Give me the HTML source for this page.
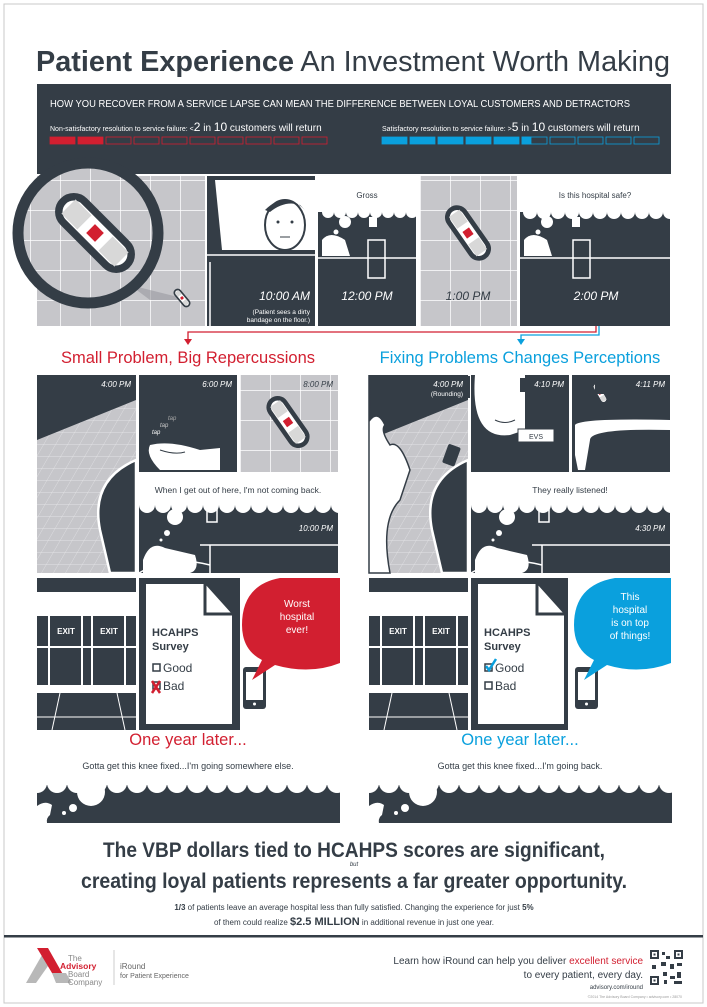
<!DOCTYPE html>
<html><head><meta charset="utf-8"><style>
html,body{margin:0;padding:0;background:#fff}
svg{display:block}
text{font-family:"Liberation Sans",sans-serif}
</style></head><body>
<svg width="707" height="1007" viewBox="0 0 707 1007" xmlns="http://www.w3.org/2000/svg">
<defs>
<pattern id="grid" width="30" height="30" patternUnits="userSpaceOnUse"><rect width="30" height="30" fill="#c6c6ca"/><path d="M0 0H30M0 0V30" stroke="#fff" stroke-width="1.5"/></pattern>
<pattern id="floor" width="12" height="12" patternUnits="userSpaceOnUse" patternTransform="skewX(-30)"><rect width="12" height="12" fill="#c6c6ca"/><path d="M0 0H12M0 0V12" stroke="#e6e6e8" stroke-width="0.8"/></pattern>
<g id="band">
<rect x="-36" y="-12" width="72" height="24" rx="12" fill="#fff" stroke="#343d46" stroke-width="6"/>
<rect x="-30" y="-8" width="18" height="16" fill="#d8d8d8"/><rect x="12" y="-8" width="18" height="16" fill="#d8d8d8"/>
<rect x="-5" y="-5" width="10" height="10" fill="#d21f30"/>
</g>
</defs>
<rect x="4" y="4" width="699" height="999" fill="#fff" stroke="#c8c8c8" stroke-width="1"/>

<!-- Title -->
<text x="36" y="71" font-size="29" fill="#343d46" textLength="634" lengthAdjust="spacingAndGlyphs"><tspan font-weight="bold">Patient Experience</tspan> An Investment Worth Making</text>

<!-- Dark box -->
<rect x="37" y="84" width="634" height="90" fill="#343d46"/>
<text x="50" y="107" font-size="10" fill="#fff" textLength="580" lengthAdjust="spacingAndGlyphs">HOW YOU RECOVER FROM A SERVICE LAPSE CAN MEAN THE DIFFERENCE BETWEEN LOYAL CUSTOMERS AND DETRACTORS</text>
<text x="50" y="131" font-size="7" fill="#fff">Non-satisfactory resolution to service failure: <tspan font-size="7">&lt;</tspan><tspan font-size="12">2</tspan><tspan font-size="10"> in </tspan><tspan font-size="12">10</tspan><tspan font-size="10"> customers will return</tspan></text>
<text x="382" y="131" font-size="7" fill="#fff">Satisfactory resolution to service failure: <tspan>&gt;</tspan><tspan font-size="12">5</tspan><tspan font-size="10"> in </tspan><tspan font-size="12">10</tspan><tspan font-size="10"> customers will return</tspan></text>
<g stroke="#d21f30" stroke-width="0.8" fill="none">
<rect x="50" y="137" width="25" height="7" fill="#d21f30"/><rect x="78" y="137" width="25" height="7" fill="#d21f30"/>
<rect x="106" y="137" width="25" height="7"/><rect x="134" y="137" width="25" height="7"/><rect x="162" y="137" width="25" height="7"/><rect x="190" y="137" width="25" height="7"/><rect x="218" y="137" width="25" height="7"/><rect x="246" y="137" width="25" height="7"/><rect x="274" y="137" width="25" height="7"/><rect x="302" y="137" width="25" height="7"/>
</g>
<g stroke="#0aa0dd" stroke-width="0.8" fill="none">
<rect x="382" y="137" width="25" height="7" fill="#0aa0dd"/><rect x="410" y="137" width="25" height="7" fill="#0aa0dd"/><rect x="438" y="137" width="25" height="7" fill="#0aa0dd"/><rect x="466" y="137" width="25" height="7" fill="#0aa0dd"/><rect x="494" y="137" width="25" height="7" fill="#0aa0dd"/><rect x="522" y="137" width="25" height="7"/><rect x="522" y="137" width="9" height="7" fill="#0aa0dd"/>
<rect x="550" y="137" width="25" height="7"/><rect x="578" y="137" width="25" height="7"/><rect x="606" y="137" width="25" height="7"/><rect x="634" y="137" width="25" height="7"/>
</g>

<!-- Strip -->
<rect x="37" y="176" width="168" height="150" fill="url(#grid)"/>
<rect x="207" y="176" width="108" height="150" fill="#343d46"/>
<path d="M215 180 H315 V250 H222 Z" fill="#fff"/>
<ellipse cx="285" cy="225" rx="20" ry="25" fill="#fff" stroke="#343d46" stroke-width="2"/>
<path d="M265 210 Q285 190 305 210 L300 205 Q285 200 270 212Z" fill="#343d46"/>
<circle cx="278" cy="222" r="1.5" fill="#343d46"/><circle cx="292" cy="222" r="1.5" fill="#343d46"/>
<path d="M280 237 H290" stroke="#343d46"/>
<path d="M207 255 H315 M210 262 V326" stroke="#fff" stroke-width="1.5"/>
<text x="310" y="300" font-size="12" fill="#fff" text-anchor="end" font-style="italic">10:00 AM</text>
<text x="310" y="314" font-size="6.5" fill="#fff" text-anchor="end">(Patient sees a dirty</text>
<text x="310" y="322" font-size="6.5" fill="#fff" text-anchor="end">bandage on the floor.)</text>

<rect x="318" y="176" width="98" height="150" fill="#343d46"/>
<rect x="318" y="176" width="98" height="36" fill="#fff"/>
<g fill="#fff"><circle cx="328" cy="212" r="6"/><circle cx="340" cy="212" r="6"/><circle cx="352" cy="212" r="6"/><circle cx="364" cy="212" r="6"/><circle cx="376" cy="212" r="6"/><circle cx="388" cy="212" r="6"/><circle cx="400" cy="212" r="6"/><circle cx="412" cy="212" r="6"/><circle cx="345" cy="222" r="6"/><circle cx="336" cy="232" r="2.5"/></g>
<text x="367" y="198" font-size="8" fill="#343d46" text-anchor="middle">Gross</text>
<path d="M322 240 Q330 230 345 240 L350 256 H322Z" fill="#fff"/><path d="M318 258 H416" stroke="#fff" stroke-width="1.5"/><path d="M368 240 H385 V278 H368Z" fill="none" stroke="#fff" stroke-width="1.5"/><rect x="369" y="217" width="8" height="10" fill="#fff"/>
<text x="367" y="300" font-size="12" fill="#fff" text-anchor="middle" font-style="italic">12:00 PM</text>

<rect x="420" y="176" width="97" height="150" fill="url(#grid)"/>
<use href="#band" transform="translate(468,233) rotate(55) scale(0.8)"/>
<text x="468" y="300" font-size="12" fill="#343d46" text-anchor="middle" font-style="italic">1:00 PM</text>

<rect x="520" y="176" width="150" height="150" fill="#343d46"/>
<rect x="520" y="176" width="150" height="36" fill="#fff"/>
<g fill="#fff"><circle cx="530" cy="212" r="7"/><circle cx="544" cy="212" r="7"/><circle cx="558" cy="212" r="7"/><circle cx="572" cy="212" r="7"/><circle cx="586" cy="212" r="7"/><circle cx="600" cy="212" r="7"/><circle cx="614" cy="212" r="7"/><circle cx="628" cy="212" r="7"/><circle cx="642" cy="212" r="7"/><circle cx="656" cy="212" r="7"/><circle cx="670" cy="212" r="7"/><circle cx="547" cy="222" r="6"/><circle cx="538" cy="232" r="2.5"/></g>
<text x="595" y="198" font-size="8" fill="#343d46" text-anchor="middle">Is this hospital safe?</text>
<path d="M524 240 Q532 230 547 240 L552 256 H524Z" fill="#fff"/><path d="M520 258 H670" stroke="#fff" stroke-width="1.5"/><path d="M573 240 H590 V278 H573Z" fill="none" stroke="#fff" stroke-width="1.5"/><rect x="572" y="217" width="8" height="10" fill="#fff"/>
<text x="596" y="300" font-size="12" fill="#fff" text-anchor="middle" font-style="italic">2:00 PM</text>

<!-- Magnifier -->
<path d="M130 285 L190 300 L150 300Z" fill="#9a9aa0" opacity="0.6"/>
<circle cx="88" cy="233" r="70" fill="url(#grid)" stroke="#343d46" stroke-width="11"/>
<use href="#band" transform="translate(95,233) rotate(45) scale(1.25)"/>
<use href="#band" transform="translate(182,298) rotate(50) scale(0.28)"/>

<!-- Connectors -->
<path d="M596 326 V332 H188 V340" stroke="#d21f30" stroke-width="1.3" fill="none"/>
<path d="M184 339 L192 339 L188 345Z" fill="#d21f30"/>
<path d="M599 326 V335 H521 V340" stroke="#0aa0dd" stroke-width="1.3" fill="none"/>
<path d="M517 339 L525 339 L521 345Z" fill="#0aa0dd"/>

<text x="188" y="363" font-size="16.5" fill="#d21f30" text-anchor="middle">Small Problem, Big Repercussions</text>
<text x="520" y="363" font-size="16.5" fill="#0aa0dd" text-anchor="middle">Fixing Problems Changes Perceptions</text>

<!-- LEFT COMIC -->
<g id="comic">
<rect x="37" y="375" width="99" height="198" fill="#343d46"/>
<path d="M37 440 L136 400 V573 H37Z" fill="url(#floor)"/>
<path d="M136 460 Q90 480 100 530 L110 573 H136Z" fill="#343d46" stroke="#fff" stroke-width="2.5"/>
<rect x="139" y="375" width="98" height="97" fill="#343d46"/>
<rect x="240" y="375" width="98" height="97" fill="url(#grid)"/>
<rect x="139" y="472" width="199" height="33" fill="#fff"/>
<rect x="139" y="505" width="199" height="68" fill="#343d46"/>
<g fill="#fff"><circle cx="147" cy="505" r="8"/><circle cx="163" cy="505" r="8"/><circle cx="179" cy="505" r="8"/><circle cx="195" cy="505" r="8"/><circle cx="211" cy="505" r="8"/><circle cx="227" cy="505" r="8"/><circle cx="243" cy="505" r="8"/><circle cx="259" cy="505" r="8"/><circle cx="275" cy="505" r="8"/><circle cx="291" cy="505" r="8"/><circle cx="307" cy="505" r="8"/><circle cx="323" cy="505" r="8"/><circle cx="339" cy="505" r="8"/><circle cx="175" cy="517" r="8"/><circle cx="167" cy="533" r="3"/><circle cx="161" cy="540" r="1.5"/></g>
<path d="M143 560 Q150 540 165 548 L195 555 Q200 570 190 573 H143Z" fill="#fff"/>
<path d="M139 573 Q170 555 210 565" stroke="#fff" stroke-width="1.5" fill="none"/>
<path d="M200 545 H338 M210 545 V573" stroke="#fff" stroke-width="1.5" fill="none"/>
<rect x="207" y="508" width="10" height="14" fill="none" stroke="#fff" stroke-width="1.5"/>
<rect x="37" y="578" width="99" height="152" fill="#fff"/>
<rect x="37" y="578" width="99" height="14" fill="#343d46"/>
<rect x="37" y="615" width="99" height="70" fill="#343d46"/>
<path d="M37 615 H136 M37 647 H136" stroke="#fff" stroke-width="2"/>
<path d="M49 615 V685 M82 615 V685 M92 615 V685 M125 615 V685" stroke="#fff" stroke-width="2"/>
<text x="66" y="634" font-size="8" font-weight="bold" fill="#fff" text-anchor="middle">EXIT</text>
<text x="109" y="634" font-size="8" font-weight="bold" fill="#fff" text-anchor="middle">EXIT</text>
<rect x="37" y="693" width="99" height="37" fill="#343d46"/>
<path d="M37 717 H136 M60 693 L52 730 M117 693 L125 730" stroke="#fff" stroke-width="1"/>
<rect x="139" y="578" width="101" height="152" fill="#343d46"/>
<path d="M146 584 H205 L232 614 V724 H146Z" fill="#fff"/>
<path d="M205 584 V614 H232" fill="none" stroke="#343d46" stroke-width="3"/>
<text x="152" y="636" font-size="11" font-weight="bold" fill="#343d46">HCAHPS</text>
<text x="152" y="650" font-size="11" font-weight="bold" fill="#343d46">Survey</text>
<rect x="153" y="664" width="7" height="7" fill="none" stroke="#343d46" stroke-width="1.5"/>
<text x="163" y="672" font-size="12" fill="#343d46">Good</text>
<rect x="153" y="682" width="7" height="7" fill="none" stroke="#343d46" stroke-width="1.5"/>
<text x="163" y="690" font-size="12" fill="#343d46">Bad</text>
<rect x="243" y="667" width="23" height="42" rx="3" fill="#343d46"/><rect x="246" y="672" width="17" height="28" fill="#fff"/><circle cx="254.5" cy="704" r="1.5" fill="#fff"/>
</g>
<path d="M152 681 L160 693 M160 681 L152 693" stroke="#d21f30" stroke-width="2.5"/>
<path d="M340 578 H280 Q242 585 242 625 Q242 650 262 660 L252 680 L275 665 Q310 675 340 663Z" fill="#d21f30"/>
<text x="297" y="607" font-size="10" fill="#fff" text-anchor="middle">Worst</text>
<text x="297" y="620" font-size="10" fill="#fff" text-anchor="middle">hospital</text>
<text x="297" y="633" font-size="10" fill="#fff" text-anchor="middle">ever!</text>
<text x="238" y="493" font-size="8.5" fill="#343d46" text-anchor="middle">When I get out of here, I'm not coming back.</text>
<text x="131" y="387" font-size="8" fill="#fff" text-anchor="end" font-style="italic">4:00 PM</text>
<text x="232" y="387" font-size="8" fill="#fff" text-anchor="end" font-style="italic">6:00 PM</text>
<text x="333" y="387" font-size="8" fill="#343d46" text-anchor="end" font-style="italic">8:00 PM</text>
<text x="333" y="531" font-size="8" fill="#fff" text-anchor="end" font-style="italic">10:00 PM</text>
<text x="168" y="420" font-size="6" fill="#aaa" font-style="italic">tap</text><text x="160" y="427" font-size="6" fill="#ccc" font-style="italic">tap</text><text x="152" y="434" font-size="6" fill="#fff" font-style="italic">tap</text>
<path d="M150 445 Q170 440 200 450 L220 448 V470 H160 Q145 455 150 445Z" fill="#fff"/>
<path d="M160 450 Q175 455 185 452" stroke="#343d46" fill="none"/>
<use href="#band" transform="translate(288,422) rotate(55) scale(0.75)"/>

<!-- RIGHT COMIC -->
<use href="#comic" transform="translate(332,0)"/>
<path d="M369 375 V573 H390 Q380 520 400 500 L410 470 Q400 440 390 445 Q380 430 385 425 Q378 410 370 420Z" fill="#fff" stroke="#343d46" stroke-width="1.5"/>
<rect x="471" y="375" width="98" height="97" fill="#343d46"/>
<path d="M471 375 H475 Q470 440 510 435 L525 430 V375Z" fill="#fff"/>
<path d="M495 420 Q505 425 515 420" stroke="#343d46" fill="none"/>
<rect x="518" y="429" width="36" height="13" fill="#fff" stroke="#343d46"/>
<text x="536" y="439" font-size="7" fill="#343d46" text-anchor="middle">EVS</text>
<rect x="572" y="375" width="98" height="97" fill="#343d46"/>
<path d="M575 455 V425 Q580 418 670 420 V430 Q590 428 590 440 L585 470 H578Z" fill="#fff"/>
<use href="#band" transform="translate(600,393) rotate(60) scale(0.3)"/>
<rect x="568" y="578" width="102" height="152" fill="#fff"/>
<rect x="575" y="667" width="23" height="42" rx="3" fill="#343d46"/><rect x="578" y="672" width="17" height="28" fill="#fff"/><circle cx="586.5" cy="704" r="1.5" fill="#fff"/>
<path d="M671 578 H615 Q574 585 574 625 Q574 650 594 660 L584 680 L607 665 Q640 675 671 663Z" fill="#0aa0dd"/>
<text x="630" y="600" font-size="10" fill="#fff" text-anchor="middle">This</text>
<text x="630" y="613" font-size="10" fill="#fff" text-anchor="middle">hospital</text>
<text x="630" y="626" font-size="10" fill="#fff" text-anchor="middle">is on top</text>
<text x="630" y="639" font-size="10" fill="#fff" text-anchor="middle">of things!</text>
<path d="M486 666 L489 670 L496 659" stroke="#0aa0dd" stroke-width="2.5" fill="none"/>
<rect x="435" y="376" width="35" height="22" fill="#343d46"/>
<text x="463" y="387" font-size="8" fill="#fff" text-anchor="end" font-style="italic">4:00 PM</text>
<text x="463" y="396" font-size="6.5" fill="#fff" text-anchor="end">(Rounding)</text>
<rect x="520" y="378" width="45" height="14" fill="#343d46"/>
<text x="564" y="387" font-size="8" fill="#fff" text-anchor="end" font-style="italic">4:10 PM</text>
<rect x="471" y="475" width="199" height="26" fill="#fff"/>
<text x="570" y="493" font-size="8.5" fill="#343d46" text-anchor="middle">They really listened!</text>
<rect x="625" y="522" width="44" height="12" fill="#343d46"/>
<text x="665" y="531" font-size="8" fill="#fff" text-anchor="end" font-style="italic">4:30 PM</text>
<rect x="595" y="376" width="74" height="18" fill="#343d46"/>
<text x="665" y="387" font-size="8" fill="#fff" text-anchor="end" font-style="italic">4:11 PM</text>
<rect x="483" y="679" width="10" height="12" fill="#fff"/>
<rect x="485" y="682" width="7" height="7" fill="none" stroke="#343d46" stroke-width="1.5"/>
<rect x="445" y="445" width="13" height="20" rx="2" fill="#343d46" transform="rotate(20 451 455)"/>

<!-- One year later -->
<text x="188" y="745" font-size="16.5" fill="#d21f30" text-anchor="middle">One year later...</text>
<text x="520" y="745" font-size="16.5" fill="#0aa0dd" text-anchor="middle">One year later...</text>
<text x="188" y="769" font-size="9" fill="#343d46" text-anchor="middle">Gotta get this knee fixed...I'm going somewhere else.</text>
<text x="520" y="769" font-size="9" fill="#343d46" text-anchor="middle">Gotta get this knee fixed...I'm going back.</text>

<g id="band2">
<rect x="37" y="785" width="303" height="38" fill="#343d46"/>
<g fill="#fff"><circle cx="37" cy="783" r="10"/><circle cx="57" cy="783" r="10"/><circle cx="77" cy="783" r="10"/><circle cx="97" cy="783" r="10"/><circle cx="117" cy="783" r="10"/><circle cx="137" cy="783" r="10"/><circle cx="157" cy="783" r="10"/><circle cx="177" cy="783" r="10"/><circle cx="197" cy="783" r="10"/><circle cx="217" cy="783" r="10"/><circle cx="237" cy="783" r="10"/><circle cx="257" cy="783" r="10"/><circle cx="277" cy="783" r="10"/><circle cx="297" cy="783" r="10"/><circle cx="317" cy="783" r="10"/><circle cx="337" cy="783" r="10"/>
<circle cx="91" cy="792" r="14"/><circle cx="73" cy="808" r="4"/><circle cx="64" cy="813" r="2"/>
<path d="M37 806 Q45 800 52 805 L50 815 Q46 818 47 823 H37Z"/></g>
</g>
<use href="#band2" transform="translate(332,0)"/>

<!-- Bottom message -->
<text x="354" y="857" font-size="21" font-weight="bold" fill="#343d46" text-anchor="middle" textLength="502" lengthAdjust="spacingAndGlyphs">The VBP dollars tied to HCAHPS scores are significant,</text>
<text x="354" y="866" font-size="6" font-style="italic" fill="#343d46" text-anchor="middle">but</text>
<text x="354" y="888" font-size="21" font-weight="bold" fill="#343d46" text-anchor="middle" textLength="546" lengthAdjust="spacingAndGlyphs">creating loyal patients represents a far greater opportunity.</text>
<text x="354" y="910" font-size="8" fill="#343d46" text-anchor="middle"><tspan font-weight="bold">1/3</tspan> of patients leave an average hospital less than fully satisfied. Changing the experience for just <tspan font-weight="bold">5%</tspan></text>
<text x="354" y="925" font-size="8" fill="#343d46" text-anchor="middle">of them could realize <tspan font-size="11" font-weight="bold">$2.5 MILLION</tspan> in additional revenue in just one year.</text>

<rect x="4" y="935" width="699" height="2.5" fill="#343d46"/>

<!-- Footer -->
<path d="M26 983 L42 955 L48 966 L36 983Z" fill="#b8b8b8"/>
<path d="M37 948 H48 L65 978 H55Z" fill="#d21f30"/>
<path d="M52 973 H66 L72 983 H56Z" fill="#b8b8b8"/>
<text x="68" y="961" font-size="8" fill="#888">The</text>
<text x="60" y="969" font-size="8.5" font-weight="bold" fill="#d21f30">Advisory</text>
<text x="68" y="977" font-size="8" fill="#888">Board</text>
<text x="68" y="985" font-size="8" fill="#888">Company</text>
<path d="M114 950 V985" stroke="#ccc"/>
<text x="120" y="969" font-size="8" fill="#666">iRound</text>
<text x="120" y="978" font-size="7" fill="#666">for Patient Experience</text>
<text x="643" y="964" font-size="10" fill="#343d46" text-anchor="end">Learn how iRound can help you deliver <tspan fill="#d21f30">excellent service</tspan></text>
<text x="643" y="978" font-size="10" fill="#343d46" text-anchor="end">to every patient, every day.</text>
<text x="643" y="989" font-size="6" fill="#343d46" text-anchor="end">advisory.com/iround</text>
<text x="682" y="998" font-size="3.5" fill="#999" text-anchor="end">©2014 The Advisory Board Company • advisory.com • 28070</text>
<rect x="650" y="950" width="33" height="35" fill="#fff"/>
<g fill="#343d46"><rect x="650" y="950" width="9" height="9"/><rect x="674" y="950" width="9" height="9"/><rect x="650" y="976" width="9" height="9"/>
<rect x="662" y="952" width="3" height="3"/><rect x="666" y="956" width="4" height="3"/><rect x="661" y="962" width="5" height="4"/><rect x="670" y="964" width="4" height="5"/><rect x="677" y="963" width="5" height="3"/><rect x="652" y="965" width="4" height="4"/><rect x="663" y="972" width="4" height="4"/><rect x="670" y="976" width="5" height="3"/><rect x="677" y="972" width="4" height="6"/><rect x="664" y="980" width="3" height="4"/><rect x="674" y="981" width="8" height="3"/></g>
<g fill="#fff"><rect x="652" y="952" width="5" height="5"/><rect x="676" y="952" width="5" height="5"/><rect x="652" y="978" width="5" height="5"/></g>
<g fill="#343d46"><rect x="653.5" y="953.5" width="2" height="2"/><rect x="677.5" y="953.5" width="2" height="2"/><rect x="653.5" y="979.5" width="2" height="2"/></g>
</svg>
</body></html>
